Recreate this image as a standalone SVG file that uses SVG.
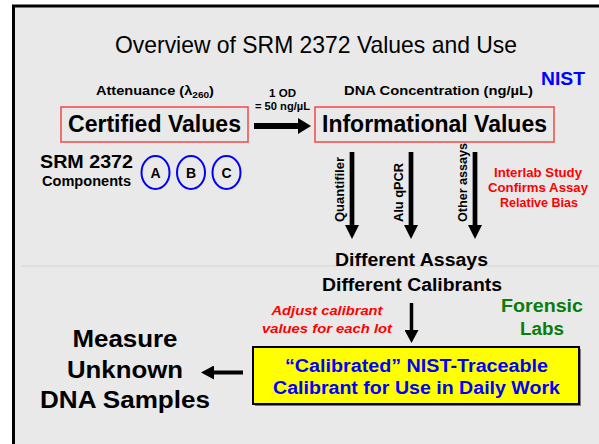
<svg xmlns="http://www.w3.org/2000/svg" width="599" height="444" viewBox="0 0 599 444">
<style>
text{font-family:"Liberation Sans",Arial,sans-serif;font-weight:bold;fill:#000}
.t{font-weight:normal;font-size:24px}
.big{font-size:23px}
.s13{font-size:13px}
.s10{font-size:10px}
.s12{font-size:12.5px}
.s18{font-size:18px}
.red{fill:#ff0000}
.blue{fill:#0000ff}
.green{fill:#0a7d0a}
.rbox{fill:none;stroke:#f04848;stroke-width:1.5}
.circ{fill:none;stroke:#0000ff;stroke-width:2}
.c{text-anchor:middle}
</style>
<defs>
<marker id="mh" viewBox="0 0 13 16" refX="0" refY="8" markerWidth="13" markerHeight="16" markerUnits="userSpaceOnUse" orient="auto"><path d="M0,0 L13,8 L0,16 Z" fill="#000"/></marker>
<marker id="mv" viewBox="0 0 14 14" refX="0" refY="7" markerWidth="14" markerHeight="14" markerUnits="userSpaceOnUse" orient="auto"><path d="M0,0 L14,7 L0,14 Z" fill="#000"/></marker>
<marker id="ms" viewBox="0 0 13 14" refX="0" refY="7" markerWidth="13" markerHeight="14" markerUnits="userSpaceOnUse" orient="auto"><path d="M0,0 L13,7 L0,14 Z" fill="#000"/></marker>
</defs>
<rect x="0" y="0" width="599" height="444" fill="#fff"/>
<rect x="13.5" y="6" width="600" height="450" fill="#e9e9e9" stroke="#000" stroke-width="3"/>
<line x1="22" y1="266" x2="599" y2="266" stroke="#d4d4d4" stroke-width="1"/>

<g id="title"><text class="t" x="115" y="53" textLength="402" lengthAdjust="spacingAndGlyphs">Overview of SRM 2372 Values and Use</text></g>
<g id="nist"><text class="blue" x="541" y="85" font-size="18" textLength="44" lengthAdjust="spacingAndGlyphs">NIST</text></g>
<g id="attenuance"><text class="s13" x="96" y="95" textLength="118" lengthAdjust="spacingAndGlyphs">Attenuance (λ<tspan font-size="9" dy="3">260</tspan><tspan dy="-3">)</tspan></text></g>
<g id="dnaconc"><text class="s13" x="344" y="95" textLength="189" lengthAdjust="spacingAndGlyphs">DNA Concentration (ng/µL)</text></g>
<g id="od">
<text class="s10 c" x="282.5" y="97" textLength="27" lengthAdjust="spacingAndGlyphs">1 OD</text>
<text class="s10 c" x="282.5" y="110" textLength="55" lengthAdjust="spacingAndGlyphs">= 50 ng/µL</text>
</g>

<g id="certified">
<rect class="rbox" x="61" y="107" width="187" height="35"/>
<text class="big" x="68" y="132" textLength="173" lengthAdjust="spacingAndGlyphs">Certified Values</text>
</g>
<g id="informational">
<rect class="rbox" x="315" y="107" width="239" height="35"/>
<text class="big" x="322" y="132" textLength="225" lengthAdjust="spacingAndGlyphs">Informational Values</text>
</g>

<g id="components">
<text x="40" y="168" font-size="19" textLength="93" lengthAdjust="spacingAndGlyphs">SRM 2372</text>
<text x="42" y="186" font-size="14" textLength="89" lengthAdjust="spacingAndGlyphs">Components</text>
</g>
<g id="compA"><ellipse class="circ" cx="155.5" cy="172.5" rx="14" ry="16.5"/><text class="c" font-size="14" x="155.5" y="177.5">A</text></g>
<g id="compB"><ellipse class="circ" cx="191" cy="172.5" rx="14" ry="16.5"/><text class="c" font-size="14" x="191" y="177.5">B</text></g>
<g id="compC"><ellipse class="circ" cx="226.5" cy="172.5" rx="14" ry="16.5"/><text class="c" font-size="14" x="226.5" y="177.5">C</text></g>

<g id="interlab">
<text class="s12 red c" x="538" y="176.5" textLength="88" lengthAdjust="spacingAndGlyphs">Interlab Study</text>
<text class="s12 red c" x="538" y="192" textLength="100" lengthAdjust="spacingAndGlyphs">Confirms Assay</text>
<text class="s12 red c" x="539" y="207" textLength="78" lengthAdjust="spacingAndGlyphs">Relative Bias</text>
</g>

<g id="assays">
<text class="s18 c" x="411.5" y="266" textLength="153" lengthAdjust="spacingAndGlyphs">Different Assays</text>
<text class="s18 c" x="412" y="291" textLength="180" lengthAdjust="spacingAndGlyphs">Different Calibrants</text>
</g>

<g id="adjust">
<text class="s12 red c" x="327" y="315" font-style="italic" textLength="111" lengthAdjust="spacingAndGlyphs">Adjust calibrant</text>
<text class="s12 red c" x="327" y="333" font-style="italic" textLength="130" lengthAdjust="spacingAndGlyphs">values for each lot</text>
</g>

<g id="forensic">
<text class="s18 green c" x="542" y="312" textLength="82" lengthAdjust="spacingAndGlyphs">Forensic</text>
<text class="s18 green c" x="542" y="335" textLength="44" lengthAdjust="spacingAndGlyphs">Labs</text>
</g>

<g id="calibrant">
<rect x="255" y="349" width="326" height="57" fill="#7a7a7a"/>
<rect x="253" y="347" width="326" height="57" fill="#ffff00" stroke="#000" stroke-width="2"/>
<text class="s18 blue c" x="416.5" y="372" textLength="263" lengthAdjust="spacingAndGlyphs">“Calibrated” NIST-Traceable</text>
<text class="s18 blue c" x="416.5" y="394" textLength="287" lengthAdjust="spacingAndGlyphs">Calibrant for Use in Daily Work</text>
</g>

<g id="measure">
<text class="c" x="125" y="347" font-size="23.5" textLength="105" lengthAdjust="spacingAndGlyphs">Measure</text>
<text class="c" x="125" y="378" font-size="23.5" textLength="116" lengthAdjust="spacingAndGlyphs">Unknown</text>
<text class="c" x="125" y="408" font-size="23.5" textLength="170" lengthAdjust="spacingAndGlyphs">DNA Samples</text>
</g>

<g id="connectors">
<line stroke="#000" stroke-width="6" x1="254" y1="126" x2="298" y2="126" marker-end="url(#mh)"/>
<line stroke="#000" stroke-width="4.7" x1="352" y1="152" x2="352" y2="225" marker-end="url(#mv)"/>
<line stroke="#000" stroke-width="4.7" x1="411" y1="152" x2="411" y2="225" marker-end="url(#mv)"/>
<line stroke="#000" stroke-width="4.7" x1="475" y1="152" x2="475" y2="225" marker-end="url(#mv)"/>
<line stroke="#000" stroke-width="3.5" x1="411.5" y1="303" x2="411.5" y2="330" marker-end="url(#ms)"/>
<line stroke="#000" stroke-width="4" x1="243" y1="372.5" x2="214" y2="372.5" marker-end="url(#ms)"/>
<text class="s12" transform="translate(343.5,189.5) rotate(-90)" text-anchor="middle" textLength="65" lengthAdjust="spacingAndGlyphs">Quantifiler</text>
<text class="s12" transform="translate(402.5,192.5) rotate(-90)" text-anchor="middle" textLength="59" lengthAdjust="spacingAndGlyphs">Alu qPCR</text>
<text class="s12" transform="translate(466.5,182.5) rotate(-90)" text-anchor="middle" textLength="79" lengthAdjust="spacingAndGlyphs">Other assays</text>
</g>
</svg>
